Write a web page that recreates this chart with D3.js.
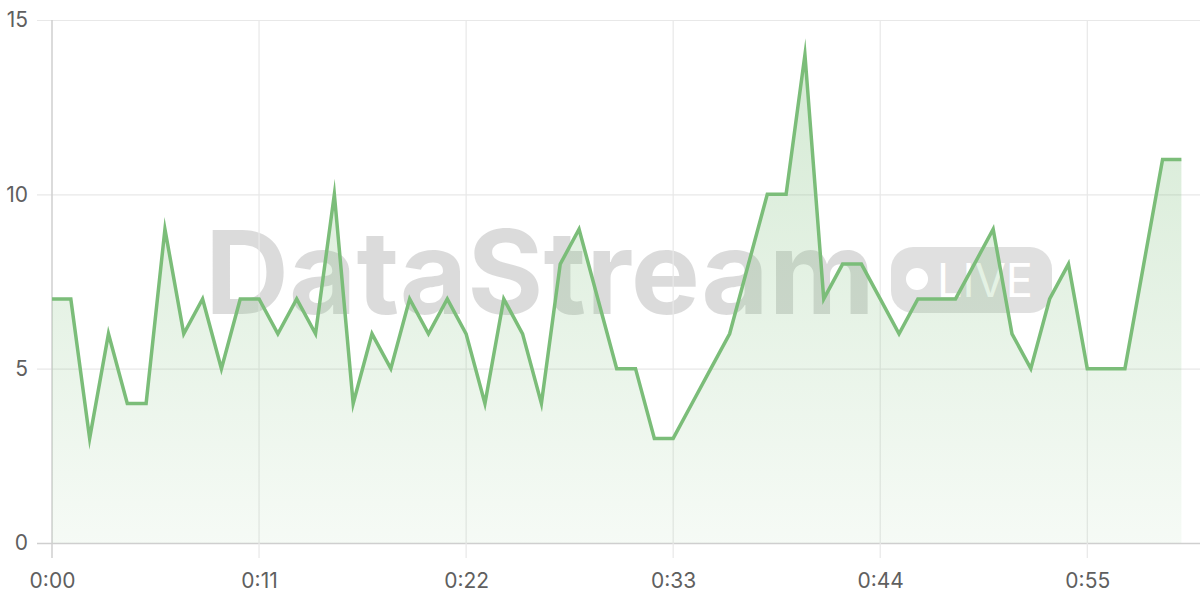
<!DOCTYPE html>
<html>
<head>
<meta charset="utf-8">
<script src="https://cdn.jsdelivr.net/npm/d3@7"></script>
<style>
  html, body { margin: 0; padding: 0; background: #fff; }
  svg { display: block; }
</style>
</head>
<body>
<svg id="chart" width="1200" height="600"></svg>
<script>
// ---- data ----
const seconds = d3.range(0, 61);
const values = [7, 7, 3, 6, 4, 4, 9, 6, 7, 5, 7, 7, 6, 7, 6, 10, 4, 6, 5, 7,
                6, 7, 6, 4, 7, 6, 4, 8, 9, 7, 5, 5, 3, 3, 4, 5, 6, 8, 10, 10,
                14, 7, 8, 8, 7, 6, 7, 7, 7, 8, 9, 6, 5, 7, 8, 5, 5, 5, 8, 11, 11];
const xTicks = [0, 11, 22, 33, 44, 55];
const xTickLabels = ["0:00", "0:11", "0:22", "0:33", "0:44", "0:55"];
const yTicks = [0, 5, 10, 15];

const data = seconds.map((s, i) => ({ s, v: values[i] }));

const svg = d3.select("#chart");
const plotLeft = 52, plotRight = 1200, plotTop = 20, plotBottom = 543;

const x = d3.scaleLinear().domain([0, 60]).range([plotLeft, 1181.4]);
const y = d3.scaleLinear().domain([0, 15]).range([plotBottom, plotTop]);

const green = "#7bbd79";
const fontFam = "Inter, 'Liberation Sans', Arial, sans-serif";

// gradient
const defs = svg.append("defs");
const grad = defs.append("linearGradient")
  .attr("id", "areaGrad").attr("gradientUnits", "userSpaceOnUse")
  .attr("x1", 0).attr("x2", 0).attr("y1", y(14)).attr("y2", y(0));
grad.append("stop").attr("offset", 0).attr("stop-color", green).attr("stop-opacity", 0.32);
grad.append("stop").attr("offset", 1).attr("stop-color", green).attr("stop-opacity", 0.07);

// watermark (behind)
const wm = svg.append("g").attr("class", "watermark");
wm.append("text")
  .attr("x", 205).attr("y", 314)
  .attr("font-family", fontFam).attr("font-weight", "bold")
  .attr("font-size", 116)
  .attr("textLength", 670).attr("lengthAdjust", "spacingAndGlyphs")
  .attr("fill", "#000").attr("fill-opacity", 0.14)
  .text("DataStream");
wm.append("rect")
  .attr("x", 891).attr("y", 247).attr("width", 161).attr("height", 66)
  .attr("rx", 22).attr("ry", 22)
  .attr("fill", "#000").attr("fill-opacity", 0.12);
wm.append("circle").attr("cx", 917).attr("cy", 279).attr("r", 11).attr("fill", "#fff");
wm.append("text")
  .attr("x", 937).attr("y", 297)
  .attr("font-family", fontFam).attr("font-size", 46)
  .attr("textLength", 96).attr("lengthAdjust", "spacingAndGlyphs")
  .attr("fill", "#fff")
  .text("LIVE");

// grid
const grid = svg.append("g");
grid.selectAll("line.h").data(yTicks).join("line")
  .attr("x1", 37).attr("x2", plotRight)
  .attr("y1", d => y(d) + 0.5).attr("y2", d => y(d) + 0.5)
  .attr("stroke", d => d === 0 ? "#cfcfcf" : "#e8e8e8").attr("stroke-width", d => d === 0 ? 1.5 : 1.2);
grid.selectAll("line.v").data(xTicks).join("line")
  .attr("x1", d => x(d)).attr("x2", d => x(d))
  .attr("y1", plotTop).attr("y2", 558)
  .attr("stroke", d => d === 0 ? "#cfcfcf" : "#e8e8e8").attr("stroke-width", d => d === 0 ? 1.5 : 1.2);

// area + line
const area = d3.area().x(d => x(d.s)).y0(y(0)).y1(d => y(d.v));
const line = d3.line().x(d => x(d.s)).y(d => y(d.v));
svg.append("path").datum(data).attr("d", area).attr("fill", "url(#areaGrad)");
svg.append("path").datum(data).attr("d", line)
  .attr("fill", "none").attr("stroke", green).attr("stroke-width", 3.5)
  .attr("stroke-linejoin", "miter").attr("stroke-miterlimit", 10);

// axes labels
const yAxis = d3.axisLeft(y).tickValues(yTicks).tickSize(0).tickPadding(24);
const gy = svg.append("g").attr("transform", `translate(${plotLeft},0)`).call(yAxis);
gy.select(".domain").remove();
gy.selectAll("text").attr("font-family", fontFam).attr("font-size", 21).attr("fill", "#5f5f5f");

const xAxis = d3.axisBottom(x).tickValues(xTicks).tickFormat((d, i) => xTickLabels[i]).tickSize(0).tickPadding(30);
const gx = svg.append("g").attr("transform", `translate(0,${plotBottom})`).call(xAxis);
gx.select(".domain").remove();
gx.selectAll("text").attr("font-family", fontFam).attr("font-size", 21).attr("fill", "#5f5f5f");
</script>
</body>
</html>
